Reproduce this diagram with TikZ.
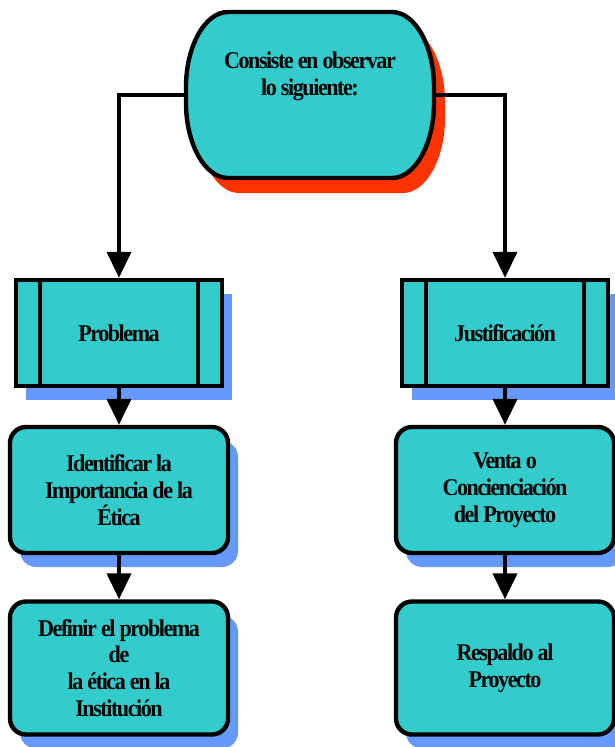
\documentclass[tikz,border=0pt]{standalone}
\usepackage{fontspec}
\setmainfont{Liberation Serif}[FakeStretch=0.92,LetterSpace=-6]
\usetikzlibrary{arrows.meta,shadows}

\definecolor{cajaverde}{HTML}{33CCCC}
\definecolor{sombraroja}{HTML}{FF3300}
\definecolor{sombraazul}{HTML}{6699FF}

% contorno del nodo de arriba (lados elipticos)
\newcommand{\formainicio}{(228,12) -- (392,12) .. controls (415,12) and (434,46) .. (434,87)
  -- (434,103) .. controls (434,144) and (415,178) .. (392,178) -- (228,178)
  .. controls (205,178) and (186,144) .. (186,103) -- (186,87)
  .. controls (186,46) and (205,12) .. (228,12) -- cycle}

\tikzset{
  letra/.style={font=\fontsize{24}{26.8}\selectfont\bfseries, align=center},
  sombra/.style={general shadow={fill=#1, shadow xshift=10pt, shadow yshift=-14pt}},
  caja/.style={letra, draw=black, line width=4.4pt, fill=cajaverde,
    rounded corners=16pt, minimum width=218pt, minimum height=126pt, sombra=sombraazul},
  proceso/.style={letra, draw=black, line width=4.4pt, fill=cajaverde,
    minimum width=206pt, minimum height=106pt, sombra=sombraazul},
  conector/.style={line width=4pt, -{Triangle[length=26pt,width=24pt]}}
}

\begin{document}
\begin{tikzpicture}[x=1pt,y=-1pt]
\useasboundingbox (0,0) rectangle (615,747);

% nodo de arriba
\fill[sombraroja, shift={(11,15)}] \formainicio;
\draw[line width=4.4pt, fill=cajaverde] \formainicio;
\node[minimum width=248pt, minimum height=166pt] (consiste) at (310,95) {};
\node[letra] (consistetxt) at (310,76) {Consiste en observar\\lo siguiente:};

% las dos ramas
\node[proceso] (prob) at (119,333) {Problema};
\node[proceso] (just) at (505,333) {Justificación};
\draw[line width=4.4pt] ([xshift=26pt]prob.north west) -- ([xshift=26pt]prob.south west);
\draw[line width=4.4pt] ([xshift=-26pt]prob.north east) -- ([xshift=-26pt]prob.south east);
\draw[line width=4.4pt] ([xshift=26pt]just.north west) -- ([xshift=26pt]just.south west);
\draw[line width=4.4pt] ([xshift=-26pt]just.north east) -- ([xshift=-26pt]just.south east);

\node[caja] (ident) at (119,490) {Identificar la\\Importancia de la\\Ética};
\node[caja, minimum height=133pt] (defin) at (119,668) {Definir el problema\\de\\la ética en la\\Institución};
\node[caja] (venta) at (505,490) {Venta o\\Concienciación\\del Proyecto};
\node[caja, minimum height=133pt] (resp) at (505,668) {Respaldo al\\Proyecto};

% flechas
\draw[conector] (consiste.west) -| (prob.north);
\draw[conector] (consiste.east) -| (just.north);
\draw[conector] (prob.south) -- (ident.north);
\draw[conector] (ident.south) -- (defin.north);
\draw[conector] (just.south) -- (venta.north);
\draw[conector] (venta.south) -- (resp.north);

\end{tikzpicture}
\end{document}
